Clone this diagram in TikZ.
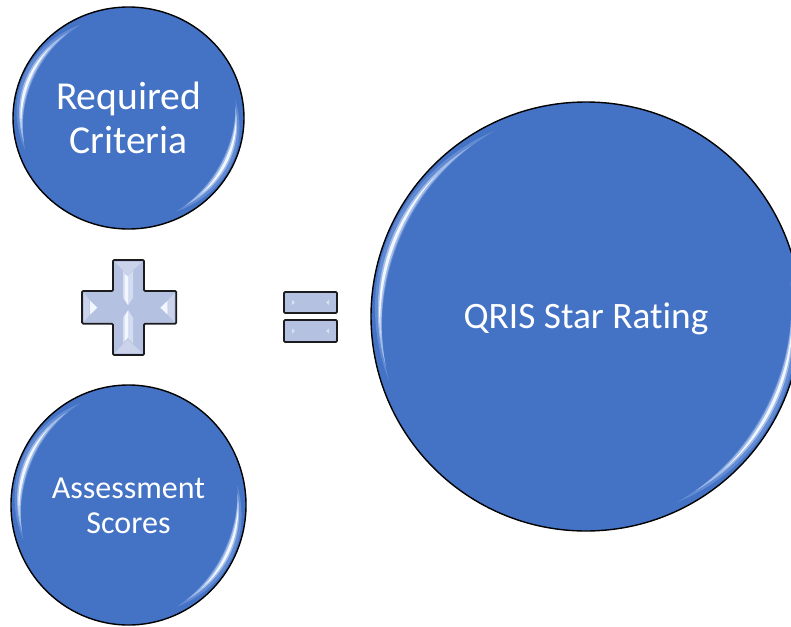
\documentclass[tikz,border=0pt]{standalone}
\usepackage{fontspec}
\setmainfont{Carlito}[Ligatures=NoCommon]
\usetikzlibrary{shapes.geometric}
\definecolor{discblue}{HTML}{4472C4}
\definecolor{rimblue}{HTML}{8FB2EA}
\definecolor{glint}{HTML}{F2F7FF}
\definecolor{signbase}{HTML}{B4C1E1}
\definecolor{signrim}{HTML}{CBD3EA}
\definecolor{signedge}{HTML}{1C1C1E}
\pgfdeclareradialshading{discrim}{\pgfpoint{0bp}{0bp}}{%
  color(0bp)=(discblue); color(47.5bp)=(discblue); color(49bp)=(discblue!78!white); color(50bp)=(discblue!55!white)}
\tikzset{
  disc/.style args={#1 by #2}{ellipse,draw=black,line width=1.4pt,shading=discrim,inner sep=0pt,
    text=white,align=center,minimum width=#1,minimum height=#2},
  signshape/.style={draw=signedge,line width=1.8pt,rounded corners=1.2pt,fill=signbase},
  glow/.style={fill=rimblue,draw=none,opacity=.4},
  glare/.style={fill=rimblue!60!white,draw=none,opacity=.7},
  core/.style={fill=glint,draw=none},
  plate/.style={fill=signrim,draw=none},
  flare/.style={fill=glint,draw=none},
  soft/.style={fill=glint,draw=none,opacity=.5}
}
\newcommand{\lowered}[2]{\raisebox{-#1}[\height][\depth]{#2}}
% crescent: cx, cy, rx, ry, angle from, angle to, mid inset, thickness, style
\newcommand{\crescent}[9]{%
  \fill[#9] plot[domain=#5:#6,samples=50,smooth] ({#1+(#3-#7+0.5*(#8)*sin(180*(\x-#5)/(#6-#5)))*cos(\x)},{#2-(#4-#7+0.5*(#8)*sin(180*(\x-#5)/(#6-#5)))*sin(\x)})
    -- plot[domain=#6:#5,samples=50,smooth] ({#1+(#3-#7-0.5*(#8)*sin(180*(\x-#5)/(#6-#5)))*cos(\x)},{#2-(#4-#7-0.5*(#8)*sin(180*(\x-#5)/(#6-#5)))*sin(\x)}) -- cycle;}
\newcommand{\gleam}[5]{% cx cy rx ry scale
  \crescent{#1}{#2}{#3}{#4}{116}{198}{7*#5}{10*#5}{glow}
  \crescent{#1}{#2}{#3}{#4}{-64}{10}{7*#5}{10*#5}{glow}
  \crescent{#1}{#2}{#3}{#4}{124}{194}{8*#5}{6*#5}{glare}
  \crescent{#1}{#2}{#3}{#4}{-58}{6}{8*#5}{6*#5}{glare}
  \crescent{#1}{#2}{#3}{#4}{136}{186}{8*#5}{2.8*#5}{core}
  \crescent{#1}{#2}{#3}{#4}{-48}{0}{8*#5}{2.8*#5}{core}}
\begin{document}
\begin{tikzpicture}[x=1pt,y=-1pt]
\useasboundingbox (0,0) rectangle (791,626);
\clip (0,0) rectangle (791,626);
\node[disc=231pt by 222pt,font=\fontsize{39.6}{44}\selectfont] (req) at (128.5,118) {Required\\Criteria};
\node[disc=235pt by 240pt,font=\fontsize{32}{35}\selectfont] (ass) at (128.5,505) {\lowered{1pt}{Assessment}\\\lowered{1pt}{Scores}};
\node[disc=430pt by 429pt,font=\fontsize{37.3}{44}\selectfont] (qris) at (586,316.5) {\lowered{2pt}{QRIS Star Rating}};
\gleam{128.5}{118}{115.5}{111}{1}
\gleam{128.5}{505}{117.5}{120}{1}
\gleam{586}{316.5}{215}{214.5}{1.1}
% plus sign
\begin{scope}[shift={(78,256)},x=.33333pt,y=-.33333pt]
  \path[signshape] (105,12) -- (198,12) -- (198,105) -- (295,105) -- (295,203) -- (198,203) -- (198,297) -- (105,297) -- (105,203) -- (12,203) -- (12,105) -- (105,105) -- cycle;
  \fill[plate] (111,18) -- (192,18) -- (165,42) -- (150,58) -- (135,42) -- cycle;
  \fill[plate] (111,291) -- (192,291) -- (165,265) -- (150,250) -- (135,265) -- cycle;
  \fill[plate] (18,111) -- (35,133) -- (35,177) -- (18,197) -- cycle;
  \fill[plate] (289,111) -- (270,133) -- (270,177) -- (289,197) -- cycle;
  \fill[soft] (135,44) -- (150,60) -- (150,148) -- (135,125) -- cycle;
  \fill[soft] (165,44) -- (150,60) -- (150,148) -- (165,125) -- cycle;
  \fill[soft] (135,262) -- (150,246) -- (150,162) -- (135,185) -- cycle;
  \fill[soft] (165,262) -- (150,246) -- (150,162) -- (165,185) -- cycle;
  \fill[flare] (140,55) -- (150,62) -- (150,146) -- (140,130) -- cycle;
  \fill[flare] (140,255) -- (150,244) -- (150,164) -- (140,180) -- cycle;
  \fill[flare] (36,134) -- (58,155) -- (36,176) -- cycle;
  \fill[flare] (269,134) -- (247,155) -- (269,176) -- cycle;
\end{scope}
% equals sign
\path[signshape] (284,292) rectangle (337,313);
\path[signshape] (284,320) rectangle (337,342);
\fill[flare,opacity=.6] (292,300) -- (295,302.5) -- (292,305) -- cycle;
\fill[flare,opacity=.6] (329,300) -- (326,302.5) -- (329,305) -- cycle;
\fill[flare,opacity=.6] (292,328.5) -- (295,331) -- (292,333.5) -- cycle;
\fill[flare,opacity=.6] (329,328.5) -- (326,331) -- (329,333.5) -- cycle;
\end{tikzpicture}
\end{document}
